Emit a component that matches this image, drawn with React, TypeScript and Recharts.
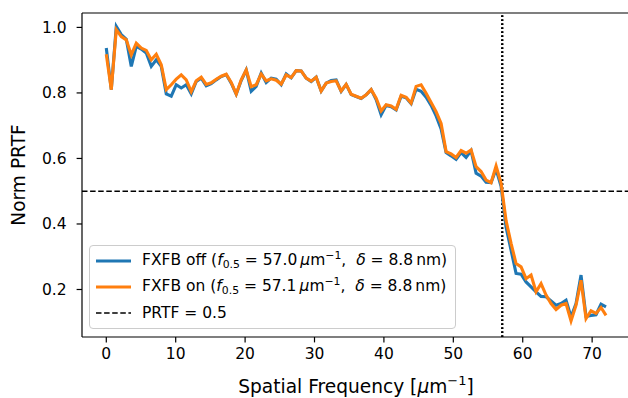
import React from "react";
import {
  LineChart,
  Line,
  XAxis,
  YAxis,
  ReferenceLine,
  Legend,
} from "recharts";

const FONT = '"DejaVu Sans", sans-serif';

// spatial frequency grid (µm^-1)
const FREQ = [
  0, 0.72, 1.44, 2.16, 2.88, 3.6, 4.32, 5.04, 5.76, 6.48,
  7.2, 7.92, 8.64, 9.36, 10.08, 10.8, 11.52, 12.24, 12.96, 13.68,
  14.4, 15.12, 15.84, 16.56, 17.28, 18, 18.72, 19.44, 20.16, 20.88,
  21.6, 22.32, 23.04, 23.76, 24.48, 25.2, 25.92, 26.64, 27.36, 28.08,
  28.8, 29.52, 30.24, 30.96, 31.68, 32.4, 33.12, 33.84, 34.56, 35.28,
  36, 36.72, 37.44, 38.16, 38.88, 39.6, 40.32, 41.04, 41.76, 42.48,
  43.2, 43.92, 44.64, 45.36, 46.08, 46.8, 47.52, 48.24, 48.96, 49.68,
  50.4, 51.12, 51.84, 52.56, 53.28, 54, 54.72, 55.44, 56.16, 56.88,
  57.6, 58.32, 59.04, 59.76, 60.48, 61.2, 61.92, 62.64, 63.36, 64.08,
  64.8, 65.52, 66.24, 66.96, 67.68, 68.4, 69.12, 69.84, 70.56, 71.28,
  72,
];

const PRTF_OFF = [
  0.937, 0.81, 1.003, 0.978, 0.964, 0.881, 0.942, 0.934, 0.922, 0.881,
  0.901, 0.881, 0.797, 0.79, 0.825, 0.815, 0.825, 0.797, 0.835, 0.845,
  0.822, 0.828, 0.84, 0.85, 0.856, 0.83, 0.796, 0.838, 0.87, 0.805,
  0.82, 0.861, 0.832, 0.845, 0.842, 0.825, 0.858, 0.846, 0.868, 0.867,
  0.845, 0.835, 0.848, 0.806, 0.83, 0.838, 0.84, 0.805, 0.826, 0.795,
  0.789, 0.783, 0.794, 0.81, 0.78, 0.733, 0.762, 0.758, 0.748, 0.79,
  0.785, 0.767, 0.811, 0.805, 0.787, 0.762, 0.73, 0.69, 0.618, 0.608,
  0.597, 0.618, 0.603, 0.624, 0.555, 0.546, 0.527, 0.526, 0.567, 0.515,
  0.39, 0.32, 0.249, 0.247, 0.223, 0.208, 0.193, 0.179, 0.178, 0.165,
  0.152, 0.157, 0.167, 0.116, 0.157, 0.244, 0.118, 0.121, 0.123, 0.155,
  0.147,
];

const PRTF_ON = [
  0.918, 0.81, 0.993, 0.972, 0.962, 0.916, 0.952, 0.937, 0.93, 0.901,
  0.918, 0.886, 0.81, 0.825, 0.842, 0.855, 0.84, 0.804, 0.837, 0.848,
  0.826, 0.831, 0.842, 0.851, 0.857, 0.832, 0.797, 0.84, 0.87, 0.819,
  0.825, 0.858, 0.837, 0.843, 0.839, 0.827, 0.855, 0.847, 0.868, 0.867,
  0.845, 0.836, 0.848, 0.806, 0.83, 0.835, 0.837, 0.806, 0.826, 0.796,
  0.79, 0.784, 0.794, 0.81, 0.784, 0.745, 0.764, 0.76, 0.75, 0.793,
  0.787, 0.769, 0.82, 0.825, 0.799, 0.771, 0.743, 0.707, 0.621, 0.614,
  0.603, 0.624, 0.616, 0.626, 0.575, 0.56, 0.534, 0.526, 0.577, 0.525,
  0.41, 0.341, 0.279, 0.269, 0.233, 0.244, 0.193, 0.218, 0.183, 0.157,
  0.139, 0.152, 0.157, 0.104, 0.152, 0.228, 0.111, 0.135, 0.127, 0.145,
  0.121,
];

const F_HALF_OFF = 57.0;
const F_HALF_ON = 57.1;
const PRTF_THRESHOLD = 0.5;

const X_TICKS = [0, 10, 20, 30, 40, 50, 60, 70];
const Y_TICKS = [0.2, 0.4, 0.6, 0.8, 1.0];

const BLUE = "#1f77b4";
const ORANGE = "#ff7f0e";

const rows = FREQ.map((f, i) => ({ f, off: PRTF_OFF[i], on: PRTF_ON[i] }));

const sup: React.CSSProperties = { fontSize: "70%", position: "relative", top: "-0.55em" };
const sub: React.CSSProperties = { fontSize: "70%", position: "relative", top: "0.3em" };

function MathLabel({ name, f }: { name: string; f: string }) {
  return (
    <span>
      {name} (<i>f</i>
      <span style={sub}>0.5</span> = {f}&thinsp;<i>μ</i>m<span style={sup}>−1</span>,&nbsp;&nbsp;<i>δ</i> = 8.8&thinsp;nm)
    </span>
  );
}

function Swatch({ color, dashed }: { color: string; dashed?: boolean }) {
  return (
    <svg width={35} height={10} style={{ display: "block", marginRight: 11, flex: "none" }}>
      <line
        x1={0}
        x2={35}
        y1={5}
        y2={5}
        stroke={color}
        strokeWidth={dashed ? 1.6 : 3.1}
        strokeDasharray={dashed ? "5.5 2.6" : undefined}
      />
    </svg>
  );
}

function LegendBox() {
  const row: React.CSSProperties = { display: "flex", alignItems: "center", height: 26, whiteSpace: "nowrap" };
  return (
    <div
      style={{
        border: "1px solid #cccccc",
        borderRadius: 4,
        background: "rgba(255,255,255,0.8)",
        padding: "2px 8px 2px 6px",
        fontFamily: FONT,
        fontSize: 15.5,
        color: "#000",
        lineHeight: "26px",
      }}
    >
      <div style={row}>
        <Swatch color={BLUE} />
        <MathLabel name="FXFB off" f="57.0" />
      </div>
      <div style={row}>
        <Swatch color={ORANGE} />
        <MathLabel name="FXFB on" f="57.1" />
      </div>
      <div style={row}>
        <Swatch color="#000" dashed />
        <span>PRTF = 0.5</span>
      </div>
    </div>
  );
}

const tickStyle = { fill: "#000", fontSize: 15.5, fontFamily: FONT };

export default function App() {
  return (
    <div
      style={{
        position: "fixed",
        left: 0,
        top: 0,
        width: 628,
        height: 398,
        overflow: "hidden",
        background: "#fff",
      }}
    >
      <LineChart
        width={640}
        height={398}
        data={rows}
        margin={{ top: 13, right: 9, bottom: 0, left: 0 }}
      >
        <XAxis
          dataKey="f"
          type="number"
          domain={[-3.5, 75.6]}
          ticks={X_TICKS}
          allowDataOverflow
          height={61}
          tickSize={5.4}
          tickMargin={6}
          tick={tickStyle}
          axisLine={{ stroke: "#000", strokeWidth: 1.2 }}
          tickLine={{ stroke: "#000", strokeWidth: 1.2 }}
          label={() => (
            <text x={356} y={393} textAnchor="middle" fontFamily={FONT} fontSize={18.6} fill="#000">
              Spatial Frequency [<tspan fontStyle="italic">μ</tspan>m
              <tspan dy={-8} fontSize={13}>−1</tspan>
              <tspan dy={8}>]</tspan>
            </text>
          )}
        />
        <YAxis
          type="number"
          domain={[0.055, 1.044]}
          ticks={Y_TICKS}
          allowDataOverflow
          width={82}
          tickSize={5.4}
          tickMargin={10}
          tick={tickStyle}
          tickFormatter={(v: number) => v.toFixed(1)}
          axisLine={{ stroke: "#000", strokeWidth: 1.2 }}
          tickLine={{ stroke: "#000", strokeWidth: 1.2 }}
          label={() => (
            <text
              x={25}
              y={175}
              transform="rotate(-90 25 175)"
              textAnchor="middle"
              fontFamily={FONT}
              fontSize={18.6}
              fill="#000"
            >
              Norm PRTF
            </text>
          )}
        />
        {/* top spine */}
        <ReferenceLine y={1.044} stroke="#000" strokeWidth={1.2} />
        <ReferenceLine y={PRTF_THRESHOLD} stroke="#000" strokeWidth={1.6} strokeDasharray="5.5 2.6" />
        <ReferenceLine x={F_HALF_OFF} stroke="#000" strokeWidth={1.8} strokeDasharray="1.8 2.2" />
        <ReferenceLine x={F_HALF_ON} stroke="#000" strokeWidth={1.8} strokeDasharray="1.8 2.2" />
        <Line
          dataKey="off"
          type="linear"
          stroke={BLUE}
          strokeWidth={3.1}
          dot={false}
          isAnimationActive={false}
        />
        <Line
          dataKey="on"
          type="linear"
          stroke={ORANGE}
          strokeWidth={3.1}
          dot={false}
          isAnimationActive={false}
        />
        <Legend
          layout="vertical"
          align="center"
          verticalAlign="middle"
          content={() => <LegendBox />}
          wrapperStyle={{ left: 89, top: 245, width: "auto" }}
        />
      </LineChart>
    </div>
  );
}
